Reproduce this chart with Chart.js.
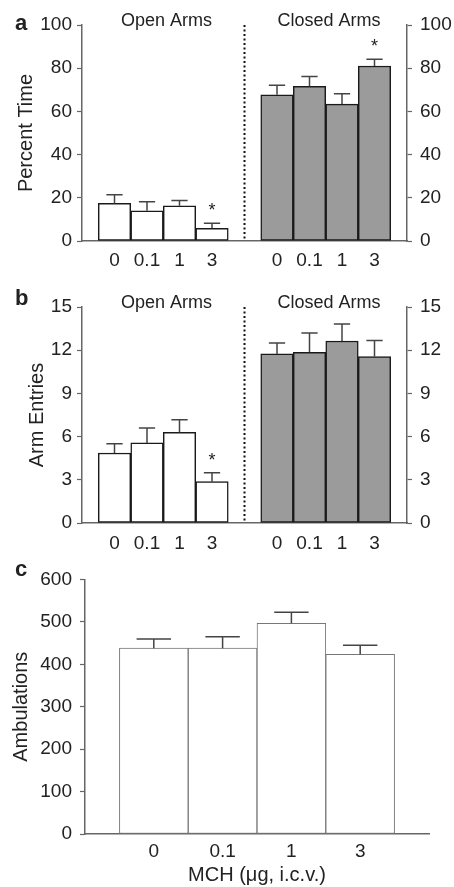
<!DOCTYPE html>
<html>
<head>
<meta charset="utf-8">
<script src="https://cdn.jsdelivr.net/npm/chart.js@4"></script>
<style>
  body { margin: 0; background: #fff; }
  canvas { position: absolute; left: 0; }
</style>
</head>
<body>
<canvas id="chartA" width="454" height="275" style="top:0px"></canvas>
<canvas id="chartB" width="454" height="280" style="top:280px"></canvas>
<canvas id="chartC" width="454" height="327" style="top:560px"></canvas>
<script>
const FONT = "'Liberation Sans', Arial, sans-serif";
Chart.defaults.font.family = FONT;
Chart.defaults.color = '#222';

const doses = ['0', '0.1', '1', '3'];

// a: percent time in arms
const timeOpen = [17.4, 14.0, 16.3, 5.9];
const timeOpenSem = [4.0, 4.2, 2.4, 2.3];
const timeClosed = [67.7, 71.6, 63.4, 81.0];
const timeClosedSem = [4.4, 4.6, 4.8, 3.1];
const timeOpenStars = [0, 0, 0, 1];
const timeClosedStars = [0, 0, 0, 1];

// b: arm entries
const entriesOpen = [4.86, 5.56, 6.29, 2.87];
const entriesOpenSem = [0.65, 1.04, 0.88, 0.62];
const entriesClosed = [11.74, 11.85, 12.64, 11.55];
const entriesClosedSem = [0.76, 1.35, 1.18, 1.13];
const entriesOpenStars = [0, 0, 0, 1];
const entriesClosedStars = [0, 0, 0, 0];

// c: ambulations
const ambulations = [438, 438, 496.5, 423.3];
const ambulationsSem = [21.6, 26.9, 26.1, 21.7];

// open arms sit in slots 1-4, closed arms in 6-9, empty slots around and between
const armLabels = ['', ...doses, '', ...doses, ''];
const openSlots = v => [null, ...v, null, null, null, null, null, null];
const closedSlots = v => [null, null, null, null, null, null, ...v, null];

const errorBars = {
  id: 'errorBars',
  afterDatasetsDraw(chart) {
    const ctx = chart.ctx;
    const y = chart.scales.y;
    chart.data.datasets.forEach((ds, i) => {
      chart.getDatasetMeta(i).data.forEach((bar, j) => {
        const v = ds.data[j];
        if (v == null) return;
        const top = y.getPixelForValue(v + ds.sem[j]);
        const half = bar.width / 4;
        ctx.save();
        ctx.strokeStyle = '#444';
        ctx.lineWidth = 1.5;
        ctx.beginPath();
        ctx.moveTo(bar.x, bar.y);
        ctx.lineTo(bar.x, top);
        ctx.moveTo(bar.x - half, top);
        ctx.lineTo(bar.x + half, top);
        ctx.stroke();
        if (ds.stars && ds.stars[j]) {
          ctx.fillStyle = '#222';
          ctx.font = '18px ' + FONT;
          ctx.textAlign = 'center';
          ctx.textBaseline = 'middle';
          ctx.fillText('*', bar.x, top - 12);
        }
        ctx.restore();
      });
    });
  }
};

const panelDecor = {
  id: 'panelDecor',
  afterDraw(chart, args, opts) {
    const { ctx, chartArea, scales: { x } } = chart;
    ctx.save();
    ctx.fillStyle = '#222';
    if (opts.arms) {
      const dx = x.getPixelForValue(5);
      ctx.strokeStyle = '#111';
      ctx.lineWidth = 2;
      ctx.setLineDash([2, 2.5]);
      ctx.beginPath();
      ctx.moveTo(dx, chartArea.top);
      ctx.lineTo(dx, chartArea.bottom);
      ctx.stroke();
      ctx.setLineDash([]);
      ctx.font = '18px ' + FONT;
      ctx.textAlign = 'center';
      ctx.textBaseline = 'middle';
      ctx.fillText('Open Arms', x.getPixelForValue(2.6), chartArea.top - 3.5);
      ctx.fillText('Closed Arms', x.getPixelForValue(7.6), chartArea.top - 3.5);
    }
    ctx.font = 'bold 22px ' + FONT;
    ctx.textAlign = 'left';
    ctx.textBaseline = 'alphabetic';
    ctx.fillText(opts.letter, 15, opts.letterY);
    ctx.restore();
  }
};

function majorLabel(every) {
  return v => Math.abs(v / every - Math.round(v / every)) < 1e-6 ? v : '';
}

function leftAxis(max, step, every, title, titlePad, width, pad) {
  return {
    position: 'left', min: 0, max: max,
    ticks: { stepSize: step, callback: majorLabel(every), font: { size: 19 }, padding: pad, color: '#222' },
    grid: { display: true, drawOnChartArea: false, drawTicks: true, tickLength: 5, color: '#666', tickColor: '#666', tickWidth: 1.2 },
    border: { display: true, color: '#666', width: 1.5 },
    title: { display: true, text: title, font: { size: 20 }, padding: { top: titlePad, bottom: 0 }, color: '#222' },
    afterFit: s => { s.width = width; }
  };
}

function rightAxis(max, step, every, width) {
  return {
    position: 'right', min: 0, max: max,
    ticks: { stepSize: step, callback: majorLabel(every), font: { size: 19 }, padding: 8, color: '#222' },
    grid: { display: true, drawOnChartArea: false, drawTicks: true, tickLength: 5, color: '#666', tickColor: '#666', tickWidth: 1.2 },
    border: { display: true, color: '#666', width: 1.5 },
    afterFit: s => { s.width = width; }
  };
}

function xAxis(height, pad, title) {
  return {
    offset: false,
    ticks: { autoSkip: false, maxRotation: 0, font: { size: 19 }, padding: pad, color: '#222' },
    grid: { display: false },
    border: { display: true, color: '#666', width: 1.5 },
    title: title ? { display: true, text: title, font: { size: 20 }, padding: { top: 0, bottom: 0 }, color: '#222' } : { display: false },
    afterFit: s => { s.height = height; }
  };
}

function armDataset(values, sem, stars, slots, fill) {
  return {
    data: slots(values),
    sem: slots(sem),
    stars: slots(stars),
    backgroundColor: fill,
    borderColor: '#1a1a1a',
    borderWidth: 1.5,
    borderSkipped: false,
    grouped: false,
    barPercentage: 1,
    categoryPercentage: 1
  };
}

function armChart(id, open, openSem, openStars, closed, closedSem, closedStars, max, step, every, title, titlePad, top, xHeight, xPad, letter, letterY) {
  return new Chart(document.getElementById(id), {
    type: 'bar',
    data: {
      labels: armLabels,
      datasets: [
        armDataset(open, openSem, openStars, openSlots, '#ffffff'),
        armDataset(closed, closedSem, closedStars, closedSlots, '#9b9b9b')
      ]
    },
    options: {
      responsive: false,
      animation: false,
      layout: { padding: { top: top, left: 0, right: 0, bottom: 0 } },
      plugins: { legend: { display: false }, tooltip: { enabled: false }, panelDecor: { arms: true, letter: letter, letterY: letterY } },
      scales: {
        x: xAxis(xHeight, xPad),
        y: leftAxis(max, step, every, title, titlePad, 82, 5),
        y2: rightAxis(max, step, every, 47)
      }
    },
    plugins: [errorBars, panelDecor]
  });
}

armChart('chartA', timeOpen, timeOpenSem, timeOpenStars, timeClosed, timeClosedSem, timeClosedStars,
  100, 10, 20, 'Percent Time', 14, 25, 34, 0, 'a', 30);

armChart('chartB', entriesOpen, entriesOpenSem, entriesOpenStars, entriesClosed, entriesClosedSem, entriesClosedStars,
  15, 1.5, 3, 'Arm Entries', 25, 27, 37, 1, 'b', 25);

new Chart(document.getElementById('chartC'), {
  type: 'bar',
  data: {
    labels: ['', ...doses, ''],
    datasets: [{
      data: [null, ...ambulations, null],
      sem: [null, ...ambulationsSem, null],
      backgroundColor: '#ffffff',
      borderColor: '#777',
      borderWidth: 1,
      borderSkipped: false,
      barPercentage: 1,
      categoryPercentage: 1
    }]
  },
  options: {
    responsive: false,
    animation: false,
    layout: { padding: { top: 14, left: 0, right: 25, bottom: 0 } },
    plugins: { legend: { display: false }, tooltip: { enabled: false }, panelDecor: { arms: false, letter: 'c', letterY: 16 } },
    scales: {
      x: xAxis(53, -2, 'MCH (\u03bcg, i.c.v.)'),
      y: leftAxis(600, 50, 100, 'Ambulations', 9, 85, 8)
    }
  },
  plugins: [errorBars, panelDecor]
});
</script>
</body>
</html>
